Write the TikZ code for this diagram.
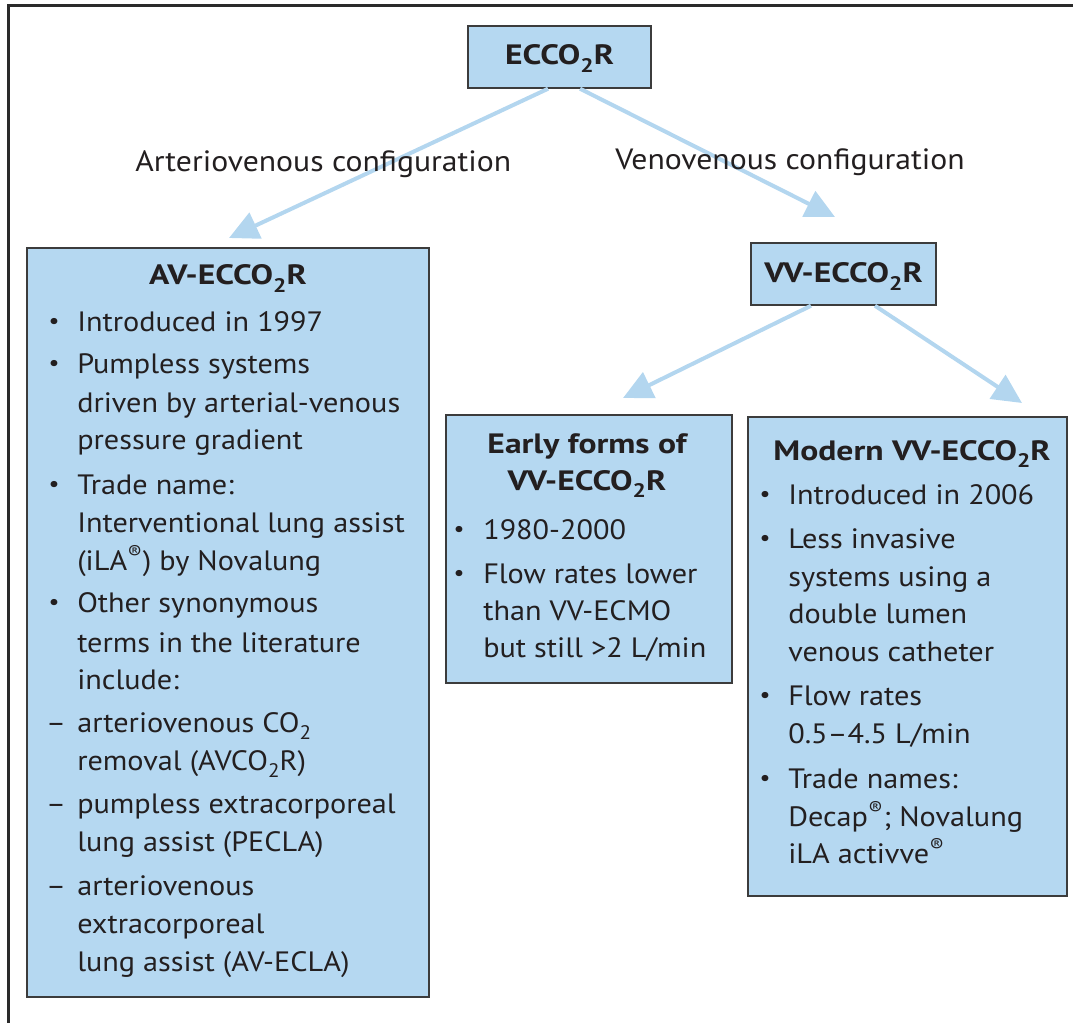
\documentclass[tikz,border=0pt]{standalone}
\usepackage{fontspec}
\setmainfont{PT Sans}[FakeStretch=1.08]
\newfontfamily\titlefont{PT Sans}[FakeStretch=1.2]
\usetikzlibrary{arrows.meta,fit}
\definecolor{boxfill}{HTML}{B5D8F1}
\definecolor{arrowc}{HTML}{B3D6EF}
\definecolor{edgec}{HTML}{3C3C3C}
\definecolor{ink}{HTML}{231F20}
\definecolor{framec}{HTML}{2A2A2A}
\newcommand\subII{\raisebox{-0.55ex}{\scalebox{0.7}{2}}}
\newcommand\regm{\textsuperscript{\textregistered}}
\newcommand\smallbullet{\raisebox{0.08em}{\scalebox{0.8}{\textbullet}}}
\begin{document}
\begin{tikzpicture}[x=0.75pt,y=-0.75pt,
  box/.style={draw=edgec, fill=boxfill, line width=1.1pt, inner sep=0pt},
  flow/.style={draw=arrowc, line width=3pt, -{Triangle[length=22pt,width=21pt]}},
  txt/.style={anchor=base west, inner sep=0pt, text=ink, font=\fontsize{21}{25}\selectfont},
  blt/.style={anchor=base, inner sep=0pt, text=ink, font=\fontsize{21}{25}\selectfont},
  ttl/.style={anchor=base, inner sep=0pt, text=ink, font=\titlefont\bfseries\fontsize{21}{25}\selectfont},
  lbl/.style={anchor=base west, inner sep=0pt, text=ink, font=\fontsize{22}{26}\selectfont}]
\useasboundingbox (0,0) rectangle (1073,1023);
\draw[framec, line width=2pt] (1073,5.5) -- (8.5,5.5) -- (8.5,1023);

% boxes
\node[box, fit={(468,26) (651,88)}] (ecco) {};
\node[box, fit={(27,248) (429,997)}] (av) {};
\node[box, fit={(751,243) (936,305)}] (vv) {};
\node[box, fit={(446,415) (732,683)}] (early) {};
\node[box, fit={(748,417) (1067,896)}] (modern) {};

% arrow end points
\coordinate (avtip) at (229,238);
\coordinate (vvtip) at (835,217);
\coordinate (earlytip) at (623,398);
\coordinate (modtip) at (1022,403);

\draw[flow] ([xshift=-8.6pt]ecco.south) -- (avtip);
\draw[flow] ([xshift=15.4pt]ecco.south) -- (vvtip);
\draw[flow] ([xshift=-24.4pt]vv.south) -- (earlytip);
\draw[flow] ([xshift=23.6pt]vv.south) -- (modtip);

% arrow labels
\node[lbl] (lav) at (135,172) {Arteriovenous configuration};
\node[lbl] (lvv) at (615,170) {Venovenous configuration};

% titles
\node[ttl] (tecco) at (559.5,65) {ECCO\subII R};
\node[ttl] (tav) at (228,285) {AV-ECCO\subII R};
\node[ttl] (tvv) at (843.5,283) {VV-ECCO\subII R};
\node[ttl] (tearly1) at (587,453) {Early forms of};
\node[ttl] (tearly2) at (587,490) {VV-ECCO\subII R};
\node[ttl] (tmod) at (912,460) {Modern VV-ECCO\subII R};

% AV box content
\node[blt] (ab1) at (54,331) {\smallbullet};
\node[txt] (a1) at (77,331) {Introduced in 1997};
\node[blt] (ab2) at (54,373) {\smallbullet};
\node[txt] (a2) at (77,373) {Pumpless systems};
\node[txt] (a3) at (77,412) {driven by arterial-venous};
\node[txt] (a4) at (77,449) {pressure gradient};
\node[blt] (ab3) at (54,494) {\smallbullet};
\node[txt] (a5) at (77,494) {Trade name:};
\node[txt] (a6) at (77,532) {Interventional lung assist};
\node[txt] (a7) at (77,570) {(iLA\regm) by Novalung};
\node[blt] (ab4) at (54,612) {\smallbullet};
\node[txt] (a8) at (77,612) {Other synonymous};
\node[txt] (a9) at (77,652) {terms in the literature};
\node[txt] (a10) at (77,689) {include:};
\node[blt] (ad1) at (56,732) {–};
\node[txt] (a11) at (77,732) {arteriovenous CO\subII};
\node[txt] (a12) at (77,770) {removal (AVCO\subII R)};
\node[blt] (ad2) at (56,813) {–};
\node[txt] (a13) at (77,813) {pumpless extracorporeal};
\node[txt] (a14) at (77,851) {lung assist (PECLA)};
\node[blt] (ad3) at (56,895) {–};
\node[txt] (a15) at (77,895) {arteriovenous};
\node[txt] (a16) at (77,933) {extracorporeal};
\node[txt] (a17) at (77,971) {lung assist (AV-ECLA)};

% Early box content
\node[blt] (eb1) at (459,539) {\smallbullet};
\node[txt] (e1) at (483,539) {1980-2000};
\node[blt] (eb2) at (459,583) {\smallbullet};
\node[txt] (e2) at (483,583) {Flow rates lower};
\node[txt] (e3) at (483,620) {than VV-ECMO};
\node[txt] (e4) at (483,657) {but still >2 L/min};

% Modern box content
\node[blt] (mb1) at (765,504) {\smallbullet};
\node[txt] (m1) at (788,504) {Introduced in 2006};
\node[blt] (mb2) at (765,548) {\smallbullet};
\node[txt] (m2) at (788,548) {Less invasive};
\node[txt] (m3) at (788,586) {systems using a};
\node[txt] (m4) at (788,623) {double lumen};
\node[txt] (m5) at (788,661) {venous catheter};
\node[blt] (mb3) at (765,705) {\smallbullet};
\node[txt] (m6) at (788,705) {Flow rates};
\node[txt] (m7) at (788,743) {0.5–4.5 L/min};
\node[blt] (mb4) at (765,788) {\smallbullet};
\node[txt] (m8) at (788,788) {Trade names:};
\node[txt] (m9) at (788,826) {Decap\regm; Novalung};
\node[txt] (m10) at (788,863) {iLA activve\regm};
\end{tikzpicture}
\end{document}
